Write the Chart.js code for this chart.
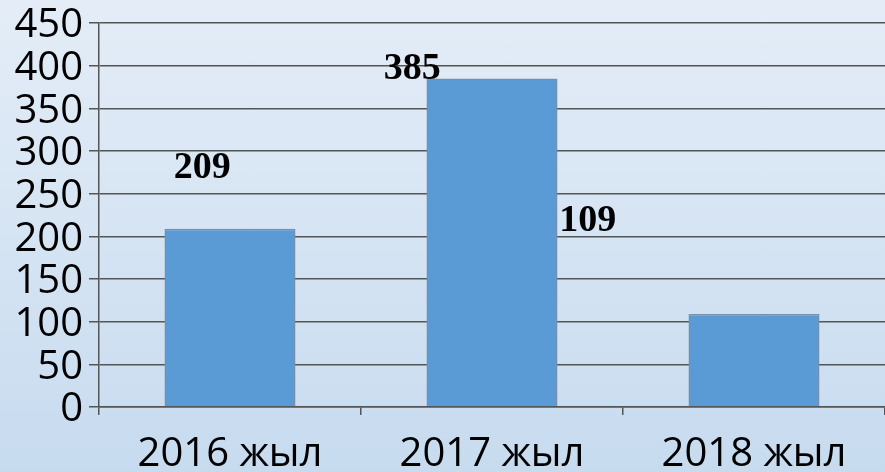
<!DOCTYPE html>
<html>
<head>
<meta charset="utf-8">
<script src="https://cdn.jsdelivr.net/npm/chart.js@4/dist/chart.umd.min.js"></script>
<style>
  html, body { margin: 0; padding: 0; }
  body { width: 885px; height: 472px; background: linear-gradient(#e4edf7, #c7dbef); }
</style>
</head>
<body>
<canvas id="chart" width="885" height="472"></canvas>
<script>
const years = ["2016 жыл", "2017 жыл", "2018 жыл"];
const counts = [209, 385, 109];
const yTicks = [0, 50, 100, 150, 200, 250, 300, 350, 400, 450];

// floating text boxes: where each number sits (category slot, value level)
const noteText = ["209", "385", "109"];
const noteSlot = [-0.106, 0.696, 1.365];
const noteLevel = [280, 396, 218];

const notes = {
    id: "notes",
    afterDatasetsDraw(chart) {
        const {ctx, scales: {x, y}} = chart;
        ctx.save();
        ctx.font = "bold 38px 'Liberation Serif', serif";
        ctx.fillStyle = "#000";
        ctx.textAlign = "center";
        ctx.textBaseline = "middle";
        noteText.forEach((t, i) => {
            ctx.fillText(t, x.getPixelForValue(noteSlot[i]), y.getPixelForValue(noteLevel[i]));
        });
        ctx.restore();
    }
};

new Chart(document.getElementById("chart"), {
    type: "bar",
    data: {
        labels: years,
        datasets: [{
            data: counts,
            backgroundColor: "#5b9bd5",
            borderColor: "#7390ad",
            borderWidth: 1.5,
            categoryPercentage: 1,
            barPercentage: 0.5
        }]
    },
    options: {
        responsive: false,
        animation: false,
        layout: {padding: {top: 23, right: 0, left: 0, bottom: 0}},
        plugins: {legend: {display: false}, tooltip: {enabled: false}},
        scales: {
            x: {
                grid: {drawOnChartArea: false, offset: true, color: "#555", lineWidth: 1.5, tickLength: 8},
                border: {color: "#555", width: 1.5},
                ticks: {color: "#000", font: {family: "'Open Sans', sans-serif", size: 40}, padding: 16, maxRotation: 0, autoSkip: false},
                afterFit: s => { s.height = 65; s.paddingLeft = 0; s.paddingRight = 0; }
            },
            y: {
                min: 0, max: 450,
                afterBuildTicks: s => { s.ticks = yTicks.map(v => ({value: v})); },
                grid: {color: "#555", lineWidth: 1.5, tickLength: 10},
                border: {color: "#555", width: 1.5},
                ticks: {color: "#000", font: {family: "'Open Sans', sans-serif", size: 40}, padding: 6, labelOffset: 3, autoSkip: false},
                afterFit: s => { s.width = 99; s.paddingTop = 0; s.paddingBottom = 0; }
            }
        }
    },
    plugins: [notes]
});
</script>
</body>
</html>
